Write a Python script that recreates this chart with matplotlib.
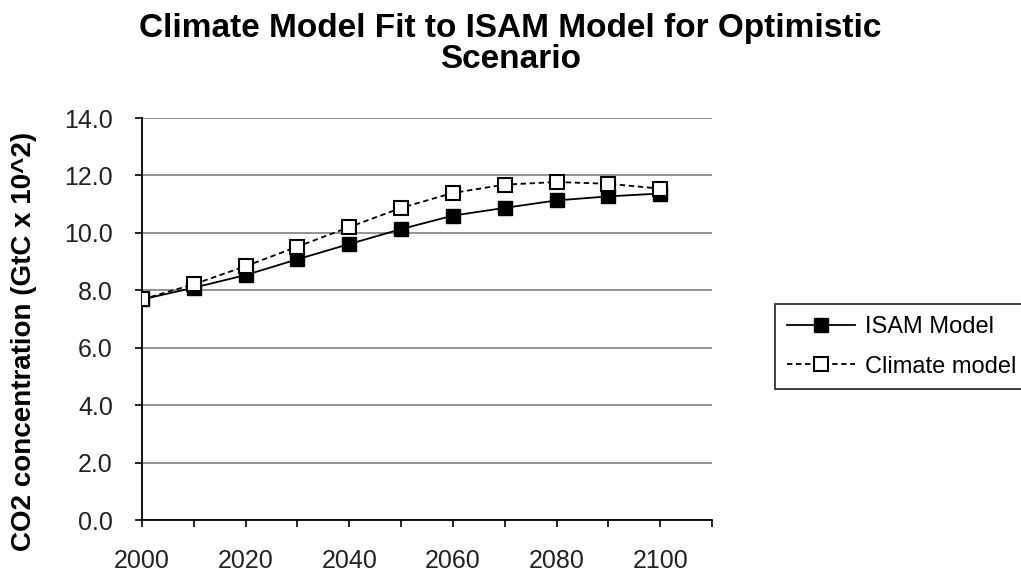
import matplotlib.pyplot as plt
import numpy as np

plt.rcParams['font.family'] = ['Liberation Sans', 'DejaVu Sans']

years = [2000, 2010, 2020, 2030, 2040, 2050, 2060, 2070, 2080, 2090, 2100]
isam = [7.68, 8.09, 8.53, 9.08, 9.61, 10.13, 10.60, 10.87, 11.13, 11.27, 11.37]
climate = [7.68, 8.21, 8.84, 9.52, 10.20, 10.87, 11.39, 11.68, 11.77, 11.71, 11.54]

x_ticks = np.arange(2000, 2111, 10)
x_labels = [str(t) if (t - 2000) % 20 == 0 else '' for t in x_ticks]
y_ticks = np.arange(0, 14.1, 2)

fig = plt.figure(figsize=(10.21, 5.74), dpi=100)
ax = fig.add_axes([142 / 1021, 1 - 520 / 574, 570 / 1021, 402 / 574])

ax.plot(years, isam, color='black', linewidth=1.3, marker='s', markersize=10.5,
        markerfacecolor='black', markeredgecolor='black', label='ISAM Model', zorder=3)
ax.plot(years, climate, color='black', linewidth=1.3, linestyle=(0, (3, 2)), marker='s',
        markersize=10.5, markerfacecolor='white', markeredgecolor='black',
        markeredgewidth=1.5, label='Climate model', zorder=4)

ax.set_xlim(2000, 2110)
ax.set_ylim(0, 14)
ax.set_xticks(x_ticks)
ax.set_xticklabels(x_labels, fontsize=18, color='#222222')
ax.set_yticks(y_ticks)
ax.set_yticklabels(['%.1f' % v for v in y_ticks], fontsize=18, color='#222222')
ax.tick_params(axis='both', direction='out', length=5, width=1.2, color='black')
ax.tick_params(axis='y', pad=16)
ax.tick_params(axis='x', pad=16)

ax.grid(axis='y', color='#808080', linewidth=1.2)
ax.set_axisbelow(True)
for s in ['top', 'right']:
    ax.spines[s].set_visible(False)
for s in ['left', 'bottom']:
    ax.spines[s].set_linewidth(1.3)

ax.set_ylabel('CO2 concentration (GtC x 10^2)', fontsize=20, fontweight='bold')
ax.yaxis.set_label_coords((37 - 142) / 570, (520 - 341) / 402)

fig.text(0.5, 1 - 68 / 574, 'Climate Model Fit to ISAM Model for Optimistic\nScenario',
         fontsize=24, fontweight='bold', ha='center', va='baseline', linespacing=1.0)

leg = fig.legend(loc='upper left', bbox_to_anchor=(775 / 1021, 1 - 304 / 574), fontsize=17,
                 frameon=True, fancybox=False, edgecolor='black', handlelength=2.9,
                 handletextpad=0.4, borderpad=0.5, labelspacing=0.75, borderaxespad=0,
                 markerscale=0.95)
leg.get_frame().set_linewidth(1.3)

fig.savefig('out.png', dpi=100)
